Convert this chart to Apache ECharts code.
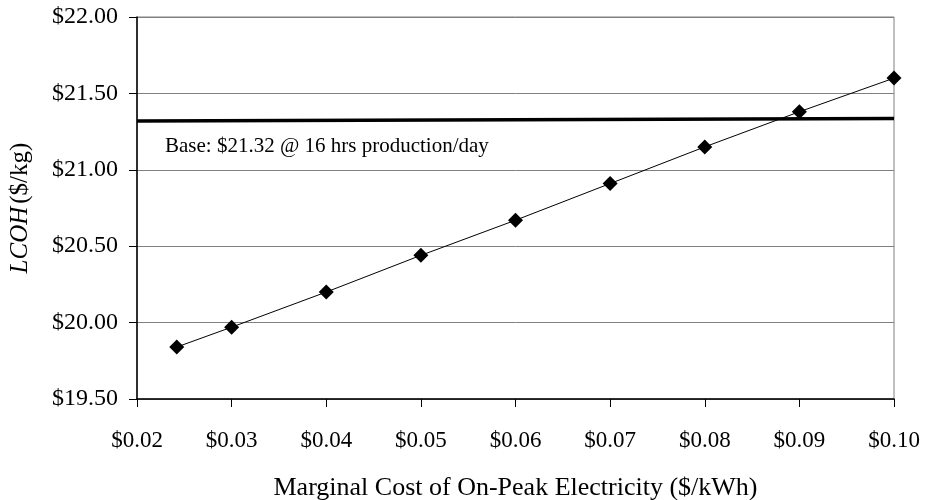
<!DOCTYPE html>
<html>
<head>
<meta charset="utf-8">
<script src="https://cdn.jsdelivr.net/npm/echarts@6/dist/echarts.min.js"></script>
<style>
  html, body { margin: 0; padding: 0; background: #fff; }
  #chart { width: 925px; height: 500px; }
</style>
</head>
<body>
<div id="chart"></div>
<script>
// marginal cost of on-peak electricity ($/kWh)
const costs = [0.0242, 0.03, 0.04, 0.05, 0.06, 0.07, 0.08, 0.09, 0.10];
// levelized cost of hydrogen ($/kg)
const lcoh = [19.84, 19.97, 20.20, 20.44, 20.67, 20.91, 21.15, 21.38, 21.60];
// base case line, drawn across the plot
const baseX = [0.02, 0.10];
const baseY = [21.32, 21.335];
const baseText = 'Base: $21.32 @ 16 hrs production/day';

const font = 'Liberation Serif';

var myChart = echarts.init(document.getElementById('chart'));

var option = {
  animation: false,
  backgroundColor: '#fff',
  textStyle: { fontFamily: font },
  grid: {
    left: 137,
    right: 31,
    top: 17,
    bottom: 101,
    containLabel: false,
    outerBoundsMode: 'none',
    show: true,
    borderColor: '#808080',
    borderWidth: 1
  },
  xAxis: {
    type: 'value',
    min: 0.02,
    max: 0.10,
    interval: 0.01,
    name: 'Marginal Cost of On-Peak Electricity ($/kWh)',
    nameLocation: 'middle',
    nameGap: 76,
    nameTextStyle: { fontFamily: font, fontSize: 26, color: '#000' },
    axisLine: { lineStyle: { color: '#000', width: 1.5 } },
    axisTick: { show: true, inside: false, length: 8, lineStyle: { color: '#000' } },
    axisLabel: {
      fontFamily: font, fontSize: 23, color: '#000', margin: 30,
      formatter: v => '$' + v.toFixed(2)
    },
    splitLine: { show: false }
  },
  yAxis: {
    type: 'value',
    min: 19.5,
    max: 22,
    interval: 0.5,
    name: '{i|LCOH} {n|($/kg)}',
    nameLocation: 'middle',
    nameGap: 104,
    nameRotate: 90,
    nameTextStyle: {
      rich: {
        i: { fontFamily: font, fontSize: 25, fontStyle: 'italic', color: '#000' },
        n: { fontFamily: font, fontSize: 25, color: '#000' }
      }
    },
    axisLine: { show: true, lineStyle: { color: '#000', width: 1.5 } },
    axisTick: { show: true, inside: false, length: 8, lineStyle: { color: '#000' } },
    axisLabel: {
      fontFamily: font, fontSize: 24, color: '#000', margin: 19,
      formatter: v => '$' + v.toFixed(2)
    },
    splitLine: { show: true, lineStyle: { color: '#808080', width: 1 } }
  },
  series: [
    {
      name: 'Base',
      type: 'line',
      data: baseX.map((x, i) => [x, baseY[i]]),
      showSymbol: false,
      symbol: 'none',
      lineStyle: { color: '#000', width: 3.5 },
      z: 2
    },
    {
      name: 'LCOH',
      type: 'line',
      data: costs.map((x, i) => [x, lcoh[i]]),
      symbol: 'diamond',
      symbolSize: 15,
      itemStyle: { color: '#000' },
      lineStyle: { color: '#000', width: 1 },
      z: 3
    }
  ],
  graphic: [
    {
      type: 'text',
      left: 165,
      top: 136,
      style: { text: baseText, fontFamily: font, fontSize: 21, fill: '#000' }
    }
  ]
};
myChart.setOption(option);
</script>
</body>
</html>
